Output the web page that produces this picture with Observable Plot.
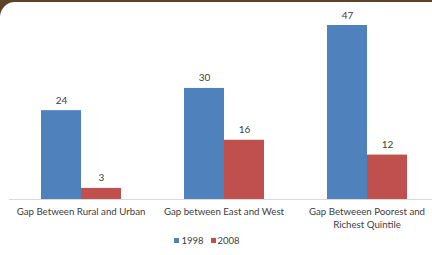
<!DOCTYPE html>
<html>
<head>
<meta charset="utf-8">
<script src="https://cdn.jsdelivr.net/npm/d3@7"></script>
<script src="https://cdn.jsdelivr.net/npm/@observablehq/plot@0.6"></script>
<style>
  html, body { margin: 0; padding: 0; background: #ffffff; }
  #wrap { position: relative; width: 432px; height: 255px; overflow: hidden; background: #5e4228; font-family: Lato, "Open Sans", sans-serif; }
  #inner { position: absolute; left: 0; top: 2px; width: 432px; height: 253px; background: #ffffff; border-top-left-radius: 15px; }
  #chart { position: absolute; left: 0; top: 0; }
  #legend { position: absolute; left: 0; top: 235px; width: 432px; display: flex; justify-content: center; padding-right: 18px; box-sizing: border-box; font-size: 9.5px; color: #404040; gap: 7px; }
  #legend span.sw { display: inline-block; width: 5px; height: 5px; margin-right: 2px; vertical-align: 1px; }
</style>
</head>
<body>
<div id="wrap">
  <div id="inner"></div>
  <div id="chart"></div>
  <div id="legend"></div>
</div>
<script>
const categories = ["Gap Between Rural and Urban", "Gap between East and West", "Gap Betweeen Poorest and Richest Quintile"];
const tickLabels = ["Gap Between Rural and Urban", "Gap between East and West", "Gap Betweeen Poorest and\nRichest Quintile"];
const years = ["1998", "2008"];
const values1998 = [24, 30, 47];
const values2008 = [3, 16, 12];
const colors = ["#4f81bd", "#c0504d"];

const data = [];
categories.forEach((c, i) => {
  data.push({category: c, year: years[0], value: values1998[i]});
  data.push({category: c, year: years[1], value: values2008[i]});
});

const chart = Plot.plot({
  width: 432,
  height: 232,
  marginTop: 25,
  marginBottom: 33,
  marginLeft: 0,
  marginRight: 0,
  style: {background: "transparent", fontFamily: "Lato, 'Open Sans', sans-serif", fontSize: "10px", color: "#404040"},
  fx: {domain: categories, range: [8, 439], padding: 0, label: null, axis: null},
  x: {domain: years, paddingInner: 0, paddingOuter: 0.75, axis: null},
  y: {domain: [0, 47], axis: null},
  color: {domain: years, range: colors},
  marks: [
    Plot.barY(data, {fx: "category", x: "year", y: "value", fill: "year"}),
    Plot.ruleY([0], {stroke: "#d9d9d9", strokeWidth: 1}),
    Plot.text(data, {fx: "category", x: "year", y: "value", text: d => String(d.value), dy: -7, lineAnchor: "bottom", fill: "#404040", fontSize: 10}),
    Plot.text(categories, {fx: d => d, frameAnchor: "bottom", text: d => tickLabels[categories.indexOf(d)], lineAnchor: "top", dy: 7, fill: "#404040", fontSize: 9.7, lineHeight: 1.3})
  ]
});
document.getElementById("chart").appendChild(chart);

const legend = document.getElementById("legend");
years.forEach((y, i) => {
  const item = document.createElement("div");
  item.innerHTML = `<span class="sw" style="background:${colors[i]}"></span>${y}`;
  legend.appendChild(item);
});
</script>
</body>
</html>
